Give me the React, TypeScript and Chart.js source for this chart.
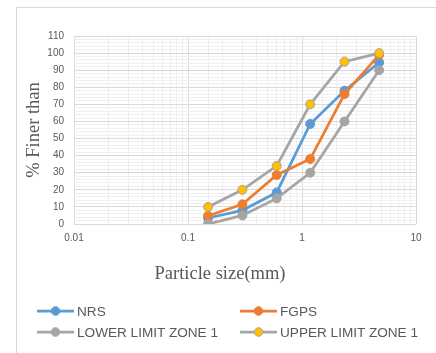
import React, { useEffect, useRef } from "react";
import { Chart, registerables } from "chart.js";

Chart.register(...registerables);

const sieveSizes = [0.15, 0.3, 0.6, 1.18, 2.36, 4.75];
const nrs = [3.5, 8, 18.5, 58.5, 78, 94.5];
const fgps = [4.8, 11.5, 28.7, 38, 76, 99];
const lowerZone1 = [0, 5, 15, 30, 60, 90];
const upperZone1 = [10, 20, 34, 70, 95, 100];
const seriesNames = ["NRS", "FGPS", "LOWER LIMIT ZONE 1", "UPPER LIMIT ZONE 1"];
const xTickLabels = ["0.01", "0.1", "1", "10"];
const yTitle = "% Finer than";
const xTitle = "Particle size(mm)";

const BLUE = "#5b9bd5";
const ORANGE = "#ed7d31";
const GRAY = "#a5a5a5";
const YELLOW = "#ffc000";
const TEXT = "#595959";

const legendItems = [
  { name: seriesNames[0], line: BLUE, fill: BLUE },
  { name: seriesNames[1], line: ORANGE, fill: ORANGE },
  { name: seriesNames[2], line: GRAY, fill: GRAY },
  { name: seriesNames[3], line: GRAY, fill: YELLOW },
];

function pts(vals: number[]) {
  return sieveSizes.map((x, i) => ({ x, y: vals[i] }));
}

export default function App() {
  const ref = useRef<HTMLCanvasElement | null>(null);

  useEffect(() => {
    if (!ref.current) return;
    const mk = (label: string, data: number[], line: string, fill: string, order: number) => ({
      label,
      data: pts(data),
      borderColor: line,
      backgroundColor: fill,
      pointBackgroundColor: fill,
      pointBorderColor: line,
      pointBorderWidth: 1,
      pointRadius: 4.5,
      borderWidth: 2.75,
      tension: 0,
      order,
    });
    const chart = new Chart(ref.current, {
      type: "line",
      data: {
        datasets: [
          mk(seriesNames[0], nrs, BLUE, BLUE, 4),
          mk(seriesNames[1], fgps, ORANGE, ORANGE, 3),
          mk(seriesNames[2], lowerZone1, GRAY, GRAY, 2),
          mk(seriesNames[3], upperZone1, GRAY, YELLOW, 1),
        ],
      },
      options: {
        animation: false,
        responsive: false,
        devicePixelRatio: 1,
        layout: { padding: { top: 28, right: 20, left: 0, bottom: 0 } },
        plugins: { legend: { display: false }, tooltip: { enabled: false } },
        scales: {
          x: {
            type: "logarithmic",
            min: 0.01,
            max: 10,
            afterFit: (s: any) => {
              s.height = 62;
            },
            grid: {
              drawTicks: false,
              color: (ctx: any) => {
                const v = ctx.tick ? ctx.tick.value : 0;
                const l = Math.log10(v);
                return Math.abs(l - Math.round(l)) < 1e-6 ? "#d9d9d9" : "#efefef";
              },
            },
            border: { display: false },
            ticks: {
              autoSkip: false,
              maxRotation: 0,
              padding: 8,
              color: TEXT,
              font: { family: "Liberation Sans, Arial, sans-serif", size: 10 },
              callback: (v: any) => {
                const l = Math.log10(Number(v));
                if (Math.abs(l - Math.round(l)) < 1e-6) {
                  return xTickLabels[Math.round(l) + 2] ?? "";
                }
                return "";
              },
            },
            title: { display: false },
          },
          y: {
            min: 0,
            max: 110,
            afterFit: (s: any) => {
              s.width = 57;
            },
            grid: {
              drawTicks: false,
              color: (ctx: any) => {
                const v = ctx.tick ? ctx.tick.value : 0;
                return Math.abs(v % 10) < 1e-6 ? "#d9d9d9" : "#efefef";
              },
            },
            border: { display: false },
            ticks: {
              stepSize: 2,
              autoSkip: false,
              padding: 10,
              color: TEXT,
              font: { family: "Liberation Sans, Arial, sans-serif", size: 10 },
              callback: (v: any) => (Math.abs(Number(v) % 10) < 1e-6 ? String(v) : ""),
            },
            title: {
              display: true,
              text: yTitle,
              color: TEXT,
              padding: { top: 6, bottom: 4 },
              font: { family: "Liberation Serif, Times New Roman, serif", size: 18.5, weight: "normal" },
            },
          },
        },
      } as any,
    });
    return () => chart.destroy();
  }, []);

  return (
    <div style={{ position: "fixed", left: 0, top: 0, width: 436, height: 353, background: "#fff", overflow: "hidden" }}>
      <div
        style={{
          position: "absolute",
          left: 16,
          top: 7,
          width: 460,
          height: 400,
          border: "1px solid #d9d9d9",
          boxSizing: "border-box",
        }}
      />
      <canvas ref={ref} width={419} height={278} style={{ position: "absolute", left: 17, top: 8 }} />
      <div
        style={{
          position: "absolute",
          left: 120,
          width: 200,
          top: 262,
          height: 22,
          lineHeight: "22px",
          textAlign: "center",
          fontFamily: "Liberation Serif, Times New Roman, serif",
          fontSize: 18.5,
          color: TEXT,
          whiteSpace: "nowrap",
        }}
      >
        {xTitle}
      </div>
      {legendItems.map((it, i) => {
        const col = i % 2;
        const row = Math.floor(i / 2);
        return (
          <div
            key={it.name}
            style={{
              position: "absolute",
              left: col === 0 ? 37 : 240,
              top: row === 0 ? 302 : 323,
              height: 18,
              display: "flex",
              alignItems: "center",
              fontFamily: "Liberation Sans, Arial, sans-serif",
              fontSize: 13.6,
              color: TEXT,
              whiteSpace: "nowrap",
            }}
          >
            <svg width={37} height={12} style={{ marginRight: 3 }}>
              <line x1={0} y1={6} x2={37} y2={6} stroke={it.line} strokeWidth={2.75} />
              <circle cx={18.5} cy={6} r={4.3} fill={it.fill} stroke={it.line} strokeWidth={1} />
            </svg>
            <span>{it.name}</span>
          </div>
        );
      })}
    </div>
  );
}
